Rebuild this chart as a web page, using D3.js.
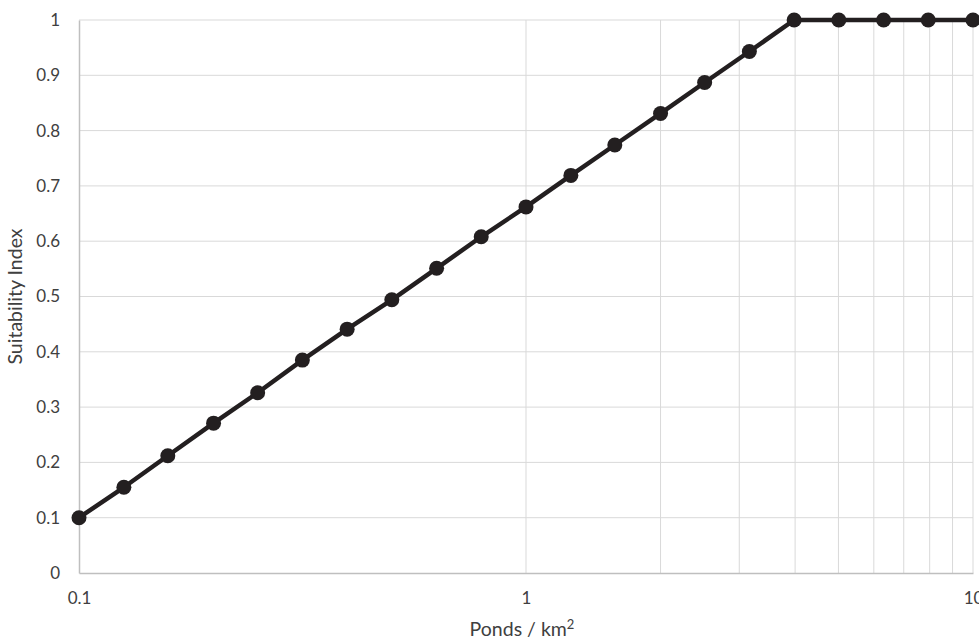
<!DOCTYPE html>
<html><head><meta charset="utf-8">
<script src="https://cdn.jsdelivr.net/npm/d3@7"></script>
<style>body{margin:0;background:#fff;} text{font-family:Lato,"Open Sans",sans-serif;}</style>
</head><body><svg id="c" width="979" height="639"></svg>
<script>
const ponds = [0.1, 0.126, 0.158, 0.2, 0.251, 0.316, 0.398, 0.501, 0.631, 0.794, 1, 1.26, 1.58, 2, 2.51, 3.16, 3.98, 5.01, 6.31, 7.94, 10];
const suitability = [0.1, 0.155, 0.212, 0.271, 0.326, 0.385, 0.441, 0.494, 0.551, 0.608, 0.662, 0.719, 0.774, 0.831, 0.887, 0.943, 1, 1, 1, 1, 1];
const xMajorTicks = [0.1, 1, 10];
const xMinorGrid = [2, 3, 4, 5, 6, 7, 8, 9];
const yTicks = [0, 0.1, 0.2, 0.3, 0.4, 0.5, 0.6, 0.7, 0.8, 0.9, 1];

const svg = d3.select("#c");
const L = 79, R = 973, T = 20, B = 573;
const x = d3.scaleLog().domain([0.1, 10]).range([L, R]);
const y = d3.scaleLinear().domain([0, 1]).range([B, T]);
const FONT = "Lato, 'Open Sans', sans-serif";

// gridlines
svg.append("g").selectAll("line").data(yTicks.filter(d => d > 0)).join("line")
  .attr("x1", L).attr("x2", R).attr("y1", d => y(d)).attr("y2", d => y(d))
  .attr("stroke", "#d9d9d9").attr("stroke-width", 1);
svg.append("g").selectAll("line").data(xMajorTicks.slice(1).concat(xMinorGrid)).join("line")
  .attr("x1", d => x(d)).attr("x2", d => x(d)).attr("y1", T).attr("y2", B)
  .attr("stroke", "#d9d9d9").attr("stroke-width", 1);

// axes
const xAxis = d3.axisBottom(x).tickValues(xMajorTicks).tickFormat(d => String(d)).tickSize(0).tickPadding(19);
const gx = svg.append("g").attr("transform", `translate(0,${B})`).call(xAxis);
gx.select(".domain").attr("stroke", "#bfbfbf").attr("stroke-width", 1.5);
gx.selectAll("text").attr("font-size", 17).attr("fill", "#404040").attr("font-family", FONT);

const yAxis = d3.axisLeft(y).tickValues(yTicks).tickFormat(d => String(d)).tickSize(0).tickPadding(19);
const gy = svg.append("g").attr("transform", `translate(${L},0)`).call(yAxis);
gy.select(".domain").attr("stroke", "#bfbfbf").attr("stroke-width", 1.5);
gy.selectAll("text").attr("font-size", 17).attr("fill", "#404040").attr("font-family", FONT);

// titles
const xt = svg.append("text").attr("x", (L + R) / 2 - 4).attr("y", 636).attr("text-anchor", "middle")
  .attr("font-size", 19.5).attr("fill", "#404040");
xt.append("tspan").text("Ponds / km");
xt.append("tspan").attr("dy", -7).attr("font-size", 13).text("2");

svg.append("text").attr("transform", `translate(22,${(T + B) / 2}) rotate(-90)`)
  .attr("text-anchor", "middle").attr("font-size", 19.5).attr("fill", "#404040").text("Suitability Index");

// series
const data = ponds.map((p, i) => ({x: p, y: suitability[i]}));
svg.append("path").datum(data)
  .attr("d", d3.line().x(d => x(d.x)).y(d => y(d.y)))
  .attr("fill", "none").attr("stroke", "#231f20").attr("stroke-width", 4.5).attr("stroke-linejoin", "round");
svg.append("g").selectAll("circle").data(data).join("circle")
  .attr("cx", d => x(d.x)).attr("cy", d => y(d.y)).attr("r", 7.5).attr("fill", "#231f20");
</script></body></html>
